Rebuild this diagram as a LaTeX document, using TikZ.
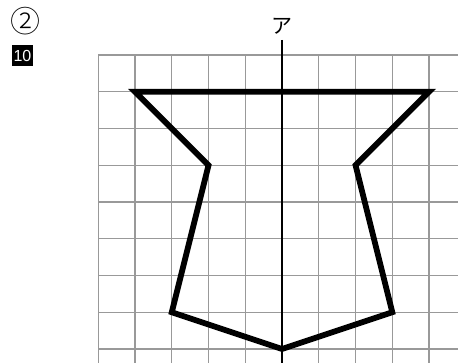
\documentclass[tikz,border=0pt]{standalone}
\usepackage{fontspec}
\setmainfont{Liberation Sans}
\newfontfamily\jpfont{Noto Sans CJK JP}
\newfontfamily\jplight{Noto Sans CJK JP Light}
\tikzset{
  gridline/.style={draw=black!40, line width=1.3pt},
  shapeline/.style={draw=black, line width=5.8pt, line join=miter},
  axisline/.style={draw=black, line width=2pt},
  badge/.style={fill=black, text=white, minimum width=21.5pt, minimum height=21.5pt, inner sep=0pt, font=\fontsize{16pt}{16pt}\selectfont},
}
\begin{document}
\begin{tikzpicture}[x=1pt,y=-1pt]
\useasboundingbox (0,0) rectangle (458,363);
\begin{scope}
\clip (0,0) rectangle (458,363);
\foreach \k in {0,...,9} {
  \draw[gridline] ({98.3+36.75*\k},55) -- ({98.3+36.75*\k},370);
}
\foreach \k in {0,...,8} {
  \draw[gridline] (98.3,{55+36.75*\k}) -- (470,{55+36.75*\k});
}
\end{scope}
% vertices (grid units)
\coordinate (A) at ({98.3+36.75*1},{55+36.75*1});
\coordinate (B) at ({98.3+36.75*9},{55+36.75*1});
\coordinate (C) at ({98.3+36.75*7},{55+36.75*3});
\coordinate (D) at ({98.3+36.75*8},{55+36.75*7});
\coordinate (E) at ({98.3+36.75*5},{55+36.75*8});
\coordinate (F) at ({98.3+36.75*2},{55+36.75*7});
\coordinate (G) at ({98.3+36.75*3},{55+36.75*3});
\coordinate (axtop) at ({98.3+36.75*5},40);
\coordinate (axbot) at ({98.3+36.75*5},363);
\draw[axisline] (axtop) -- (axbot);
\draw[shapeline] (A) -- (B) -- (C) -- (D) -- (E) -- (F) -- (G) -- cycle;
\node[font=\jpfont\fontsize{21pt}{21pt}\selectfont, inner sep=0pt] (lab) at ({98.3+36.75*5},26.5) {ア};
\node[font=\jplight\fontsize{30pt}{30pt}\selectfont, inner sep=0pt] (num) at (25.3,21) {②};
\node[badge] (badge10) at (22.5,55.5) {10};
\end{tikzpicture}
\end{document}
